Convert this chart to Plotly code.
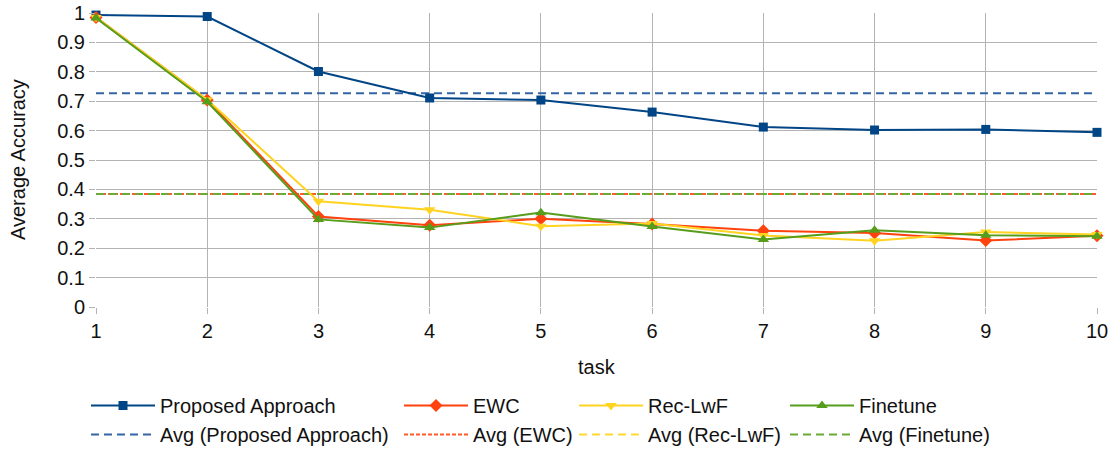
import plotly.graph_objects as go

tasks = [1, 2, 3, 4, 5, 6, 7, 8, 9, 10]
proposed = [0.993, 0.988, 0.801, 0.711, 0.704, 0.663, 0.612, 0.602, 0.604, 0.594]
ewc = [0.985, 0.704, 0.308, 0.278, 0.300, 0.282, 0.259, 0.252, 0.226, 0.242]
reclwf = [0.985, 0.705, 0.360, 0.331, 0.275, 0.284, 0.243, 0.225, 0.255, 0.247]
finetune = [0.983, 0.698, 0.298, 0.270, 0.321, 0.274, 0.230, 0.261, 0.244, 0.241]
avg_proposed = 0.727
avg_ewc = 0.384
avg_reclwf = 0.384
avg_finetune = 0.384
x_title = "task"
y_title = "Average Accuracy"

names = ["Proposed Approach", "EWC", "Rec-LwF", "Finetune"]
series = [proposed, ewc, reclwf, finetune]
avgs = [avg_proposed, avg_ewc, avg_reclwf, avg_finetune]
colors = ["#004586", "#ff420e", "#ffd320", "#579d1c"]
avg_colors = ["#3465a4", "#ff5a2a", "#ffd832", "#6aab35"]
symbols = ["square", "diamond", "triangle-down", "triangle-up"]
dashes = ["8px,5px", "4px,2px", "8px,5px", "8px,5px"]
legend_ids = ["legend", "legend2", "legend3", "legend4"]
legend_x_px = [86, 399, 574, 785]

FONT = "Liberation Sans, Arial, sans-serif"
FS = 20
W, H = 1115, 450
L, R, T, B = 96, 18, 13, 143
PW, PH = W - L - R, H - T - B

fig = go.Figure()
for n, a, c, d, lg in zip(names, avgs, avg_colors, dashes, legend_ids):
    fig.add_trace(go.Scatter(
        x=[tasks[0], tasks[-1]], y=[a, a], mode="lines",
        name=f"Avg ({n})", line=dict(color=c, width=2, dash=d),
        legend=lg, legendrank=2, hoverinfo="skip"))
for n, s, c, sym, lg in zip(names, series, colors, symbols, legend_ids):
    fig.add_trace(go.Scatter(
        x=tasks, y=s, mode="lines+markers", name=n,
        line=dict(color=c, width=2),
        marker=dict(symbol=sym, size=10 if sym != "square" else 9, color=c),
        legend=lg, legendrank=1, cliponaxis=False))

layout_legends = {}
for lg, px in zip(legend_ids, legend_x_px):
    layout_legends[lg] = dict(
        x=px / W, xanchor="left", xref="container",
        y=1 - 386 / H, yanchor="top", yref="container",
        orientation="v", bgcolor="rgba(0,0,0,0)",
        font=dict(family=FONT, size=FS, color="#111111"),
        itemwidth=64, tracegroupgap=0, traceorder="normal")

fig.update_layout(
    width=W, height=H,
    margin=dict(l=L, r=R, t=T, b=B, autoexpand=False),
    paper_bgcolor="white", plot_bgcolor="white",
    font=dict(family=FONT, size=FS, color="#111111"),
    showlegend=True,
    xaxis=dict(
        range=[1, 10], tickvals=tasks, ticktext=[str(t) for t in tasks],
        showgrid=True, gridcolor="#b3b3b3", gridwidth=1,
        ticks="outside", ticklen=6, tickcolor="#b3b3b3",
        zeroline=False, showline=False, automargin=False,
        tickfont=dict(family=FONT, size=FS)),
    yaxis=dict(
        range=[0, 1], dtick=0.1, tick0=0,
        showgrid=True, gridcolor="#b3b3b3", gridwidth=1,
        ticks="outside", ticklen=6, tickcolor="#b3b3b3",
        zeroline=False, showline=False, automargin=False,
        tickfont=dict(family=FONT, size=FS)),
    annotations=[
        dict(text=x_title, xref="paper", yref="paper",
             x=0.5, y=(T + PH - 367) / PH, xanchor="center", yanchor="middle",
             showarrow=False, font=dict(family=FONT, size=FS, color="#111111")),
        dict(text=y_title, xref="paper", yref="paper",
             x=(18 - L) / PW, y=0.5, xanchor="center", yanchor="middle",
             textangle=-90, showarrow=False,
             font=dict(family=FONT, size=FS, color="#111111")),
    ],
    **layout_legends,
)

fig.write_html("out.html")
